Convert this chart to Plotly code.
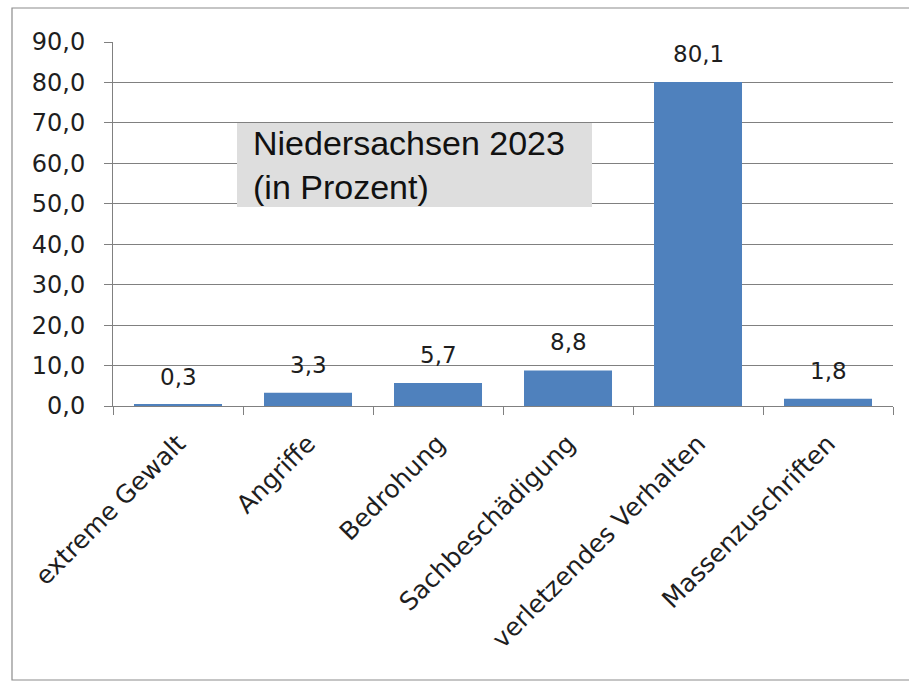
import plotly.graph_objects as go

categories = ["extreme Gewalt", "Angriffe", "Bedrohung", "Sachbeschädigung",
              "verletzendes Verhalten", "Massenzuschriften"]
values = [0.3, 3.3, 5.7, 8.8, 80.1, 1.8]
y_ticks = [0, 10, 20, 30, 40, 50, 60, 70, 80, 90]
box_text = "Niedersachsen 2023<br>(in Prozent)"

W, H = 909, 682
L, R, T, B = 113, 16, 42, 276
grid = "#808080"
tick_font = dict(family="DejaVu Sans", size=24, color="#1e1e1e")

def fmt(v):
    return f"{v:.1f}".replace(".", ",")

fig = go.Figure()
fig.add_trace(go.Bar(x=categories, y=values, marker=dict(color="#4F81BD", line=dict(width=0)),
                     hoverinfo="x+y"))

# data labels
for c, v in zip(categories, values):
    fig.add_annotation(x=c, y=v, xref="x", yref="y", text=fmt(v), showarrow=False,
                       yanchor="middle", yshift=28,
                       font=dict(family="DejaVu Sans", size=23, color="#1e1e1e"))

# gray text box
fig.add_shape(type="rect", xref="paper", yref="y", x0=(237 - L) / 780, x1=(592 - L) / 780,
              y0=49.2, y1=70.0, fillcolor="#DEDEDE", line=dict(width=0), layer="above")
fig.add_annotation(xref="paper", yref="y", x=(251 - L) / 780, y=59.6, xanchor="left",
                   yanchor="middle", align="left", text=box_text, showarrow=False,
                   font=dict(family="Liberation Sans", size=34, color="#111111"))

# outer chart border
ph = H - T - B
fig.add_shape(type="rect", xref="paper", yref="paper",
              x0=(12 - L) / 780, x1=(912 - L) / 780,
              y0=(H - B - 680) / ph, y1=(H - B - 8) / ph,
              line=dict(color="#8c8c8c", width=1.2), fillcolor="rgba(0,0,0,0)", layer="below")

fig.update_layout(
    width=W, height=H,
    margin=dict(l=L, r=R, t=T, b=B),
    paper_bgcolor="white", plot_bgcolor="white",
    bargap=0.323,
    showlegend=False,
    separators=",.",
    xaxis=dict(type="category", showline=True, linecolor=grid, linewidth=1,
               ticks="outside", tickson="boundaries", ticklen=8, tickcolor=grid,
               tickangle=-45, tickfont=dict(family="DejaVu Sans", size=25, color="#1e1e1e"),
               showgrid=False, automargin=False, ticklabelstandoff=12),
    yaxis=dict(range=[0, 90], tickvals=y_ticks, tickformat=".1f", showline=True,
               linecolor=grid, linewidth=1, ticks="outside", ticklen=8, tickcolor=grid,
               showgrid=True, gridcolor=grid, gridwidth=1, zeroline=False,
               tickfont=tick_font, ticklabelstandoff=14, automargin=False),
)

fig.write_html("out.html", config={"displayModeBar": False},
               post_script="document.body.style.margin='0';document.body.style.overflow='hidden';")
